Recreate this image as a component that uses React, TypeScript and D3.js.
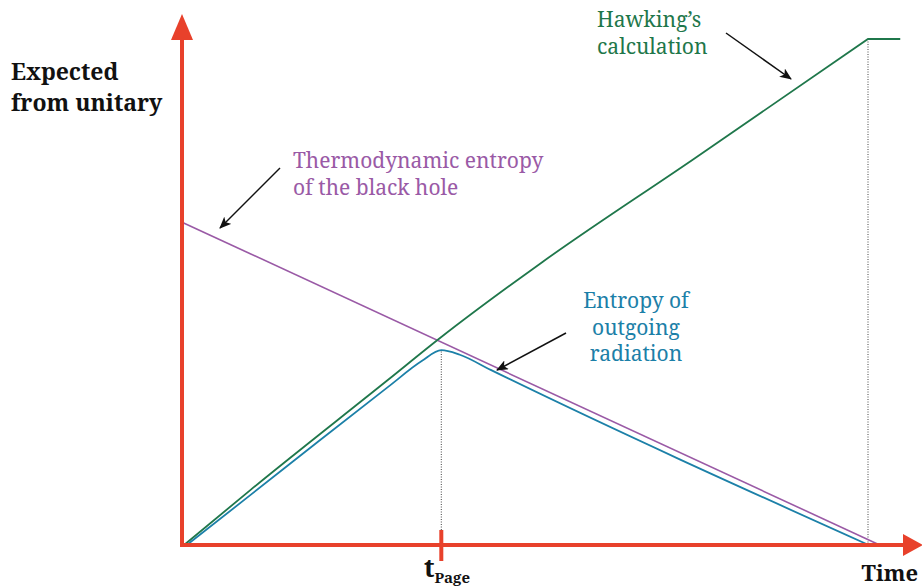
import React from "react";
import * as d3 from "d3";

// Time runs 0..100 (0 = formation, 100 = final evaporation); entropy in the same arbitrary units.
const hawkingTime = [0.3, 10, 30, 37.8, 52.3, 74.5, 100];
const hawkingEntropy = [0, 10.9, 32.6, 41.1, 55.7, 76.2, 100];
const hawkingPlateauEnd = 104.7;

const thermoTime = [0, 101.7];
const thermoEntropy = [63.8, 0];

const radiationTime = [0.7, 10, 20, 30, 35, 37.8, 40.5, 45, 100.1];
const radiationEntropy = [0, 9.9, 20.6, 31.2, 36.4, 38.5, 37.6, 34.6, 0];

const pageTime = 37.8;
const evaporationTime = 100;

const yLabelLines = ["Expected", "from unitary"];
const thermoLabel = ["Thermodynamic entropy", "of the black hole"];
const radiationLabel = ["Entropy of", "outgoing", "radiation"];
const hawkingLabel = ["Hawking\u2019s", "calculation"];

const W = 922;
const H = 586;
const RED = "#e8412b";
const PURPLE = "#9a5aa6";
const BLUE = "#1c80a8";
const GREEN = "#1f774b";
const SERIF = "'Noto Serif', 'DejaVu Serif', serif";

const x = d3.scaleLinear().domain([0, 100]).range([182, 868]);
const y = d3.scaleLinear().domain([0, 100]).range([545, 39]);

const toPts = (ts: number[], vs: number[]) => ts.map((t, i) => [t, vs[i]] as [number, number]);

const smooth = d3
  .line<[number, number]>()
  .x((d) => x(d[0]))
  .y((d) => y(d[1]))
  .curve(d3.curveMonotoneX);

const straight = d3
  .line<[number, number]>()
  .x((d) => x(d[0]))
  .y((d) => y(d[1]));

// linear lookup on the radiation curve (for the dotted guide)
const radiationAt = (t: number) => {
  const i = radiationTime.findIndex((v) => v >= t);
  if (i <= 0) return radiationEntropy[0];
  const t0 = radiationTime[i - 1];
  const t1 = radiationTime[i];
  const f = (t - t0) / (t1 - t0);
  return radiationEntropy[i - 1] + f * (radiationEntropy[i] - radiationEntropy[i - 1]);
};

function Pointer({ x1, y1, x2, y2 }: { x1: number; y1: number; x2: number; y2: number }) {
  return (
    <line x1={x1} y1={y1} x2={x2} y2={y2} stroke="#111" strokeWidth={1.5} markerEnd="url(#pointerHead)" />
  );
}

export default function App() {
  const x0 = x(0);
  const y0 = y(0);
  const last = hawkingEntropy[hawkingEntropy.length - 1];
  const hawkingPath =
    (smooth(toPts(hawkingTime, hawkingEntropy)) || "") + `L${x(hawkingPlateauEnd)},${y(last)}`;
  const thermoPath = straight(toPts(thermoTime, thermoEntropy)) || "";
  const radiationPath = smooth(toPts(radiationTime, radiationEntropy)) || "";

  return (
    <svg width={W} height={H} style={{ position: "absolute", left: 0, top: 0 }}>
      <defs>
        <marker
          id="pointerHead"
          viewBox="0 0 12 10"
          refX={11}
          refY={5}
          markerWidth={12}
          markerHeight={10}
          markerUnits="userSpaceOnUse"
          orient="auto"
        >
          <path d="M0,0 L12,5 L0,10 L3,5 Z" fill="#111" />
        </marker>
      </defs>
      <rect width={W} height={H} fill="#fff" />

      {/* dotted guides */}
      <line
        x1={x(pageTime)}
        x2={x(pageTime)}
        y1={y0}
        y2={y(radiationAt(pageTime))}
        stroke="#444"
        strokeWidth={1}
        strokeDasharray="1,1.5"
      />
      <line
        x1={x(evaporationTime)}
        x2={x(evaporationTime)}
        y1={y0}
        y2={y(last)}
        stroke="#444"
        strokeWidth={1}
        strokeDasharray="1,1.5"
      />

      {/* curves */}
      <path d={thermoPath} fill="none" stroke={PURPLE} strokeWidth={1.6} />
      <path d={hawkingPath} fill="none" stroke={GREEN} strokeWidth={1.8} />
      <path d={radiationPath} fill="none" stroke={BLUE} strokeWidth={1.8} />

      {/* axes */}
      <line x1={x0} y1={y0 + 2} x2={x0} y2={36} stroke={RED} strokeWidth={4} />
      <path d={`M${x0},14 L${x0 + 11},40 L${x0 - 11},40 Z`} fill={RED} />
      <line x1={x0 - 2} y1={y0} x2={906} y2={y0} stroke={RED} strokeWidth={4} />
      <path d={`M923,${y0} L903,${y0 - 11} L903,${y0 + 11} Z`} fill={RED} />
      <line x1={x(pageTime)} x2={x(pageTime)} y1={y0 - 15} y2={y0 + 16} stroke={RED} strokeWidth={4} />

      {/* axis labels */}
      <g fontFamily={SERIF} fontWeight="bold" fill="#111">
        {yLabelLines.map((s, i) => (
          <text key={s} x={11} y={80 + i * 31} fontSize={23}>
            {s}
          </text>
        ))}
        <text x={424} y={577} fontSize={26}>
          t
          <tspan fontSize={15} dy={6}>
            Page
          </tspan>
        </text>
        <text x={918} y={581} fontSize={22} textAnchor="end">
          Time
        </text>
      </g>

      {/* curve labels */}
      <g fontFamily={SERIF} fontSize={21}>
        {thermoLabel.map((s, i) => (
          <text key={s} x={293} y={168 + i * 27} fill={PURPLE}>
            {s}
          </text>
        ))}
        {radiationLabel.map((s, i) => (
          <text key={s} x={636} y={308 + i * 26.5} fill={BLUE} textAnchor="middle">
            {s}
          </text>
        ))}
        {hawkingLabel.map((s, i) => (
          <text key={s} x={597} y={27 + i * 26.5} fill={GREEN}>
            {s}
          </text>
        ))}
      </g>

      {/* pointers */}
      <Pointer x1={280} y1={168} x2={220} y2={228} />
      <Pointer x1={566} y1={333} x2={497} y2={370} />
      <Pointer x1={726} y1={33} x2={791} y2={79} />
    </svg>
  );
}
